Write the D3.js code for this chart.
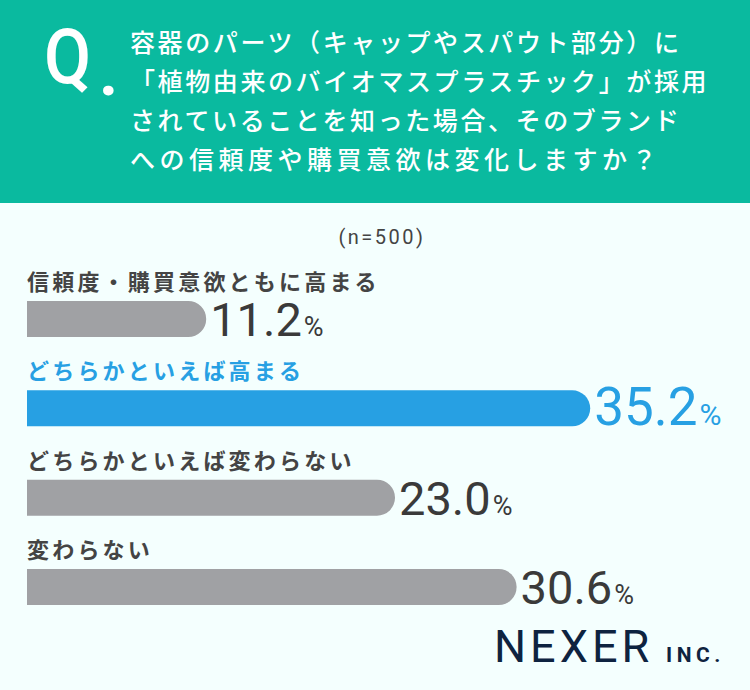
<!DOCTYPE html>
<html><head><meta charset="utf-8">
<script src="https://cdn.jsdelivr.net/npm/d3@7"></script>
<style>html,body{margin:0;padding:0;background:#F4FFFE;}svg{display:block;}</style>
</head><body>
<script>
const titleLines = [
  "容器のパーツ（キャップやスパウト部分）に",
  "「植物由来のバイオマスプラスチック」が採用",
  "されていることを知った場合、そのブランド",
  "への信頼度や購買意欲は変化しますか？"
];
const sampleNote = "(n=500)";
const categories = [
  "信頼度・購買意欲ともに高まる",
  "どちらかといえば高まる",
  "どちらかといえば変わらない",
  "変わらない"
];
const values = [11.2, 35.2, 23.0, 30.6];
const highlightIndex = 1;

const W = 750, H = 690;
const JP = "'Noto Sans CJK JP', 'Noto Sans', sans-serif";
const NUM = "Roboto, 'Noto Sans', sans-serif";
const svg = d3.select("body").append("svg").attr("width", W).attr("height", H);

svg.append("rect").attr("width", W).attr("height", H).attr("fill", "#F4FFFE");
svg.append("rect").attr("width", W).attr("height", 203).attr("fill", "#0ABA9F");

// Q.
svg.append("text").attr("x", 44).attr("y", 83).attr("fill", "#fff")
  .attr("font-family", NUM).attr("font-weight", 500).attr("font-size", 76)
  .attr("transform", "translate(44,0) scale(0.9,1) translate(-44,0)")
  .text("Q");
svg.append("text").attr("x", 99).attr("y", 95).attr("fill", "#fff")
  .attr("font-family", NUM).attr("font-weight", 700).attr("font-size", 66)
  .text(".");

svg.append("g").selectAll("text").data(titleLines).join("text")
  .attr("x", 130).attr("y", (d, i) => 52 + i * 39)
  .attr("fill", "#fff").attr("font-family", JP).attr("font-weight", 500)
  .attr("font-size", 25).attr("letter-spacing", (d, i) => i === 3 ? 4.5 : 2.6)
  .text(d => d);

svg.append("text").attr("x", 382).attr("y", 244).attr("text-anchor", "middle")
  .attr("fill", "#444").attr("font-family", NUM).attr("font-size", 20)
  .attr("letter-spacing", 2.5)
  .text(sampleNote);

const x0 = 27;
const x = d3.scaleLinear().domain([0, 40]).range([0, 640]);
const y = d3.scalePoint().domain(categories).range([301, 569]);
const barH = 36;

const color = i => i === highlightIndex ? "#27A0E3" : "#A0A1A4";
const textColor = i => i === highlightIndex ? "#27A0E3" : "#3A3A3A";

const rows = svg.append("g").selectAll("g").data(categories).join("g");

rows.append("text")
  .attr("x", x0).attr("y", d => y(d) - 11)
  .attr("fill", (d, i) => i === highlightIndex ? "#27A0E3" : "#444")
  .attr("font-family", JP).attr("font-weight", 700)
  .attr("font-size", 22).attr("letter-spacing", 3.2)
  .text(d => d);

rows.append("path")
  .attr("fill", (d, i) => color(i))
  .attr("d", (d, i) => {
    const w = x(values[i]), r = barH / 2, top = y(d);
    const p = d3.path();
    p.moveTo(x0, top);
    p.lineTo(x0 + w - r, top);
    p.arc(x0 + w - r, top + r, r, -Math.PI / 2, Math.PI / 2);
    p.lineTo(x0, top + barH);
    p.closePath();
    return p.toString();
  });

const lbl = rows.append("text")
  .attr("x", (d, i) => x0 + x(values[i]) + 4)
  .attr("y", d => y(d) + barH - 1)
  .attr("fill", (d, i) => textColor(i))
  .attr("font-family", NUM);
lbl.append("tspan")
  .attr("font-size", (d, i) => i === highlightIndex ? 53 : 47)
  .text((d, i) => values[i].toFixed(1));
lbl.append("tspan")
  .attr("dx", 2)
  .attr("font-size", (d, i) => i === highlightIndex ? 30 : 27)
  .text("%");

// Logo
svg.append("text").attr("x", 494).attr("y", 662).attr("fill", "#0E2340")
  .attr("font-family", NUM).attr("font-weight", 400).attr("font-size", 45)
  .attr("letter-spacing", 4).text("NEXER");
svg.append("text").attr("x", 666).attr("y", 662).attr("fill", "#0E2340")
  .attr("font-family", NUM).attr("font-weight", 700).attr("font-size", 21)
  .attr("letter-spacing", 4.5).text("INC.");
</script>
</body></html>
